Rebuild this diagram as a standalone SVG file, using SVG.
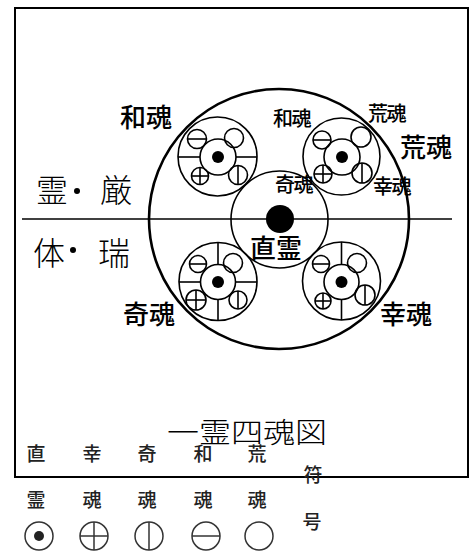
<svg xmlns="http://www.w3.org/2000/svg" width="472" height="551" viewBox="0 0 472 551">
<style>
.ln{fill:none;stroke:#000;stroke-width:1.6}
.big{fill:none;stroke:#000;stroke-width:2.6}
.dot{fill:#000}
.t{font-family:"Noto Sans CJK JP","Noto Sans CJK SC",sans-serif;fill:#000}
.m{font-weight:500}
.l{font-weight:300}
.lg{font-family:"Noto Sans CJK JP","Noto Sans CJK SC",sans-serif;fill:#222;font-size:19px;font-weight:500;text-anchor:middle}
.sym{fill:none;stroke:#333;stroke-width:1.5}
</style>
<rect x="15" y="8" width="453" height="469" fill="none" stroke="#000" stroke-width="2"/>
<g id="connectors">
<line class="ln" x1="22" y1="219" x2="452" y2="219"/>
</g>
<g id="outer">
<circle class="big" cx="279" cy="219" r="130"/>
</g>
<g id="naohi">
<circle class="ln" cx="279.5" cy="219.5" r="48.5"/>
<circle class="dot" cx="280" cy="219" r="14"/>
</g>
<g id="nigimitama">
<circle class="ln" cx="217.5" cy="156.5" r="39.5"/>
<circle class="ln" cx="218" cy="157" r="18"/>
<circle class="dot" cx="218" cy="157" r="6"/>
<line class="ln" x1="178" y1="157" x2="200" y2="157"/>
<line class="ln" x1="236" y1="157" x2="257" y2="157"/>
<circle class="ln" cx="197" cy="139" r="9.5"/><line class="ln" x1="187.5" y1="139" x2="206.5" y2="139"/>
<circle class="ln" cx="234" cy="138" r="9.5"/>
<circle class="ln" cx="200" cy="176" r="8.5"/><line class="ln" x1="191.5" y1="176" x2="208.5" y2="176"/><line class="ln" x1="200" y1="167.5" x2="200" y2="184.5"/>
<circle class="ln" cx="238" cy="175" r="9.5"/><line class="ln" x1="238" y1="165.5" x2="238" y2="184.5"/>
</g>
<g id="aramitama">
<circle class="ln" cx="341.5" cy="156.5" r="38.5"/>
<circle class="ln" cx="342" cy="157" r="18"/>
<circle class="dot" cx="342" cy="157" r="6"/>
<circle class="ln" cx="322" cy="140" r="9"/><line class="ln" x1="313" y1="140" x2="331" y2="140"/>
<circle class="ln" cx="361" cy="137" r="10"/>
<circle class="ln" cx="323" cy="174" r="9"/><line class="ln" x1="314" y1="174" x2="332" y2="174"/><line class="ln" x1="323" y1="165" x2="323" y2="183"/>
<circle class="ln" cx="362" cy="173" r="10"/><line class="ln" x1="362" y1="163" x2="362" y2="183"/>
</g>
<g id="kushimitama">
<circle class="ln" cx="218" cy="281.5" r="39"/>
<circle class="ln" cx="218" cy="282" r="17.5"/>
<circle class="dot" cx="218" cy="282" r="6"/>
<line class="ln" x1="179" y1="282" x2="200.5" y2="282"/>
<line class="ln" x1="235.5" y1="282" x2="257" y2="282"/>
<line class="ln" x1="218" y1="242.5" x2="218" y2="264.5"/>
<line class="ln" x1="218" y1="299.5" x2="218" y2="320.5"/>
<circle class="ln" cx="198" cy="264" r="8.5"/><line class="ln" x1="189.5" y1="264" x2="206.5" y2="264"/>
<circle class="ln" cx="233" cy="263" r="9.5"/>
<circle class="ln" cx="196" cy="300" r="10"/><line class="ln" x1="186" y1="300" x2="206" y2="300"/><line class="ln" x1="196" y1="290" x2="196" y2="310"/>
<circle class="ln" cx="238" cy="300" r="9"/><line class="ln" x1="238" y1="291" x2="238" y2="309"/>
</g>
<g id="sakimitama">
<circle class="ln" cx="341.5" cy="281" r="39"/>
<circle class="ln" cx="341.5" cy="282" r="17.5"/>
<circle class="dot" cx="341.5" cy="282" r="6"/>
<line class="ln" x1="341.5" y1="242" x2="341.5" y2="264.5"/>
<line class="ln" x1="341.5" y1="299.5" x2="341.5" y2="320"/>
<circle class="ln" cx="321" cy="264" r="8.5"/><line class="ln" x1="312.5" y1="264" x2="329.5" y2="264"/>
<circle class="ln" cx="357" cy="263" r="9.5"/>
<circle class="ln" cx="323" cy="301" r="8"/><line class="ln" x1="315" y1="301" x2="331" y2="301"/><line class="ln" x1="323" y1="293" x2="323" y2="309"/>
<circle class="ln" cx="365" cy="295" r="10"/><line class="ln" x1="365" y1="285" x2="365" y2="305"/>
</g>
<g id="labels">
<text class="t m" x="120" y="127" font-size="26">和魂</text>
<text class="t m" x="400" y="157" font-size="26">荒魂</text>
<text class="t m" x="250" y="258" font-size="26">直霊</text>
<text class="t m" x="123" y="324" font-size="26">奇魂</text>
<text class="t m" x="380" y="324" font-size="26">幸魂</text>
<text class="t m" x="273" y="125.5" font-size="20" letter-spacing="-1.5">和魂</text>
<text class="t m" x="368" y="120.5" font-size="20" letter-spacing="-1.5">荒魂</text>
<text class="t m" x="275" y="191.5" font-size="20" letter-spacing="-1.5">奇魂</text>
<text class="t m" x="373" y="193.5" font-size="20" letter-spacing="-1.5">幸魂</text>
<text class="t l" x="36" y="202" font-size="32">霊</text>
<text class="t l" x="100" y="202" font-size="32">厳</text>
<circle class="dot" cx="77" cy="191" r="3"/>
<text class="t l" x="33" y="265" font-size="32">体</text>
<text class="t l" x="98" y="265" font-size="32">瑞</text>
<circle class="dot" cx="73" cy="250" r="3"/>
</g>
<g id="title">
<text class="t l" x="167" y="443" font-size="28" textLength="160" lengthAdjust="spacingAndGlyphs">一霊四魂図</text>
</g>
<g id="legend">
<text class="lg" x="36" y="461">直</text>
<text class="lg" x="92" y="461">幸</text>
<text class="lg" x="147" y="461">奇</text>
<text class="lg" x="203" y="461">和</text>
<text class="lg" x="257" y="461">荒</text>
<text class="lg" x="36" y="507">霊</text>
<text class="lg" x="92" y="507">魂</text>
<text class="lg" x="147" y="507">魂</text>
<text class="lg" x="203" y="507">魂</text>
<text class="lg" x="257" y="507">魂</text>
<text class="lg" x="313" y="482">符</text>
<text class="lg" x="312" y="529">号</text>
<circle class="sym" cx="39" cy="536" r="14"/><circle cx="39" cy="536" r="5" fill="#222"/>
<circle class="sym" cx="94" cy="536" r="14"/><line class="sym" x1="80" y1="536" x2="108" y2="536"/><line class="sym" x1="94" y1="522" x2="94" y2="550"/>
<circle class="sym" cx="149" cy="536" r="14"/><line class="sym" x1="149" y1="522" x2="149" y2="550"/>
<circle class="sym" cx="206" cy="536" r="14"/><line class="sym" x1="192" y1="536" x2="220" y2="536"/>
<circle class="sym" cx="259" cy="536" r="14"/>
</g>
</svg>
